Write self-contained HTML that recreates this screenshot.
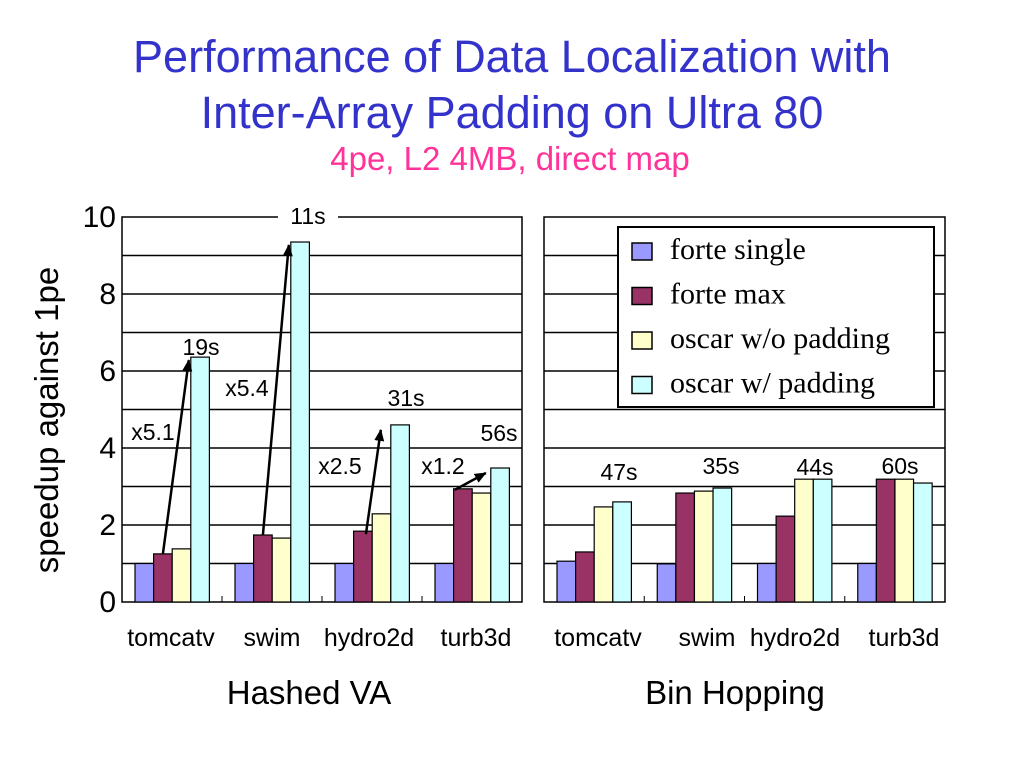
<!DOCTYPE html>
<html><head><meta charset="utf-8"><style>
body{margin:0;background:#fff;width:1024px;height:768px;overflow:hidden}
svg text{font-family:"Liberation Sans",sans-serif}
</style></head><body>
<svg id="c" width="1024" height="768" xmlns="http://www.w3.org/2000/svg">
<defs><marker id="ah" markerUnits="userSpaceOnUse" markerWidth="12" markerHeight="10" refX="11" refY="5" orient="auto"><path d="M0,0 L12,5 L0,10 z" fill="#000"/></marker></defs>
<text x="512" y="72" text-anchor="middle" font-size="45" fill="#3333cc">Performance of Data Localization with</text>
<text x="512" y="128" text-anchor="middle" font-size="45" fill="#3333cc">Inter-Array Padding on Ultra 80</text>
<text x="510" y="170" text-anchor="middle" font-size="33" fill="#ff3399">4pe, L2 4MB, direct map</text>
<text transform="translate(58,420) rotate(-90)" text-anchor="middle" font-size="33">speedup against 1pe</text>
<g id="g"></g>
</svg>
<script>
const categories=["tomcatv","swim","hydro2d","turb3d"];
const seriesNames=["forte single","forte max","oscar w/o padding","oscar w/ padding"];
const hashedVals=[[1,1,1,1],[1.25,1.74,1.84,2.94],[1.38,1.66,2.29,2.83],[6.36,9.35,4.6,3.48]];
const binVals=[[1.06,0.99,1,1],[1.3,2.83,2.23,3.19],[2.47,2.88,3.19,3.19],[2.6,2.96,3.19,3.09]];
const hashedTimes=["19s","11s","31s","56s"];
const hashedRatios=["x5.1","x5.4","x2.5","x1.2"];
const binTimes=["47s","35s","44s","60s"];
const yTicks=[0,2,4,6,8,10];
const colors=["#9999ff","#993366","#ffffcc","#ccffff"];
const hashedLabelX=[171,272,369,476];
const binLabelX=[598,707,795,904];
const NS="http://www.w3.org/2000/svg";
const G=document.getElementById('g');
function el(t,a,txt){const e=document.createElementNS(NS,t);for(const k in a)e.setAttribute(k,a[k]);if(txt!==undefined)e.textContent=txt;G.appendChild(e);return e;}
const y0=602,ppu=38.5;
function Y(v){return y0-v*ppu;}
function panel(x0,x1,vals,pid,lx){
  const f=el('rect',{x:x0,y:Y(10),width:x1-x0,height:y0-Y(10),fill:'#fff',stroke:'#000','stroke-width':1.5});
  
  for(let v=1;v<10;v++){const l=el('line',{x1:x0,x2:x1,y1:Y(v),y2:Y(v),stroke:'#000','stroke-width':1.5});
    }
  const gw=(x1-x0)/4;
  for(let i=1;i<4;i++){const t=el('line',{x1:x0+gw*i,x2:x0+gw*i,y1:y0,y2:y0-6,stroke:'#000'});
    }
  const bw=18.6;
  for(let c=0;c<4;c++){
    for(let s=0;s<4;s++){const bx=x0+gw*c+13+s*bw,v=vals[s][c];
      const r=el('rect',{x:bx,y:Y(v),width:bw,height:y0-Y(v),fill:colors[s],stroke:'#000','stroke-width':1.2});
      }
    const t=el('text',{x:lx[c],y:646,'text-anchor':'middle','font-size':25},categories[c]);
    
  }
  return {gw,bw};
}
const L=panel(122,522,hashedVals,'hashed',hashedLabelX);
yTicks.forEach(v=>{const t=el('text',{x:116,y:Y(v)+10,'text-anchor':'end','font-size':30},v);
  });
for(let c=0;c<4;c++){
  const gx=122+L.gw*c+13;
  const mx=gx+L.bw*1.5, cx=gx+L.bw*3;
  let sx=mx,sy=Y(hashedVals[1][c]), ex=cx-2, ey=Y(hashedVals[3][c])+3;
  if(c==2){sx=mx+3;sy=sy+3;ex=cx-10;ey=ey+2;}
  if(c==3){sx=mx-8;sy=sy+1;ex=cx-5;ey=ey+2;}
  const a=el('line',{x1:sx,y1:sy,x2:ex,y2:ey,stroke:'#000','stroke-width':2.5,'marker-end':'url(#ah)'});
  
}
const rPos=[[153,440],[247,396],[340,474],[443,474]];
const tPos=[[201,355],[308,224],[406,406],[499,441]];
for(let c=0;c<4;c++){
  const r=el('text',{x:rPos[c][0],y:rPos[c][1],'text-anchor':'middle','font-size':23},hashedRatios[c]);
  
  if(c==1){const b=el('rect',{x:278,y:205,width:60,height:16,fill:'#fff'});}
  const t=el('text',{x:tPos[c][0],y:tPos[c][1],'text-anchor':'middle','font-size':23},hashedTimes[c]);
  
}
const R=panel(544,945,binVals,'bin',binLabelX);
const bPos=[[619,480],[721,474],[815,475],[900,474]];
for(let c=0;c<4;c++){const t=el('text',{x:bPos[c][0],y:bPos[c][1],'text-anchor':'middle','font-size':23},binTimes[c]);
  }
const lg=el('rect',{x:618,y:227,width:316,height:180,fill:'#fff',stroke:'#000','stroke-width':2});

seriesNames.forEach((n,i)=>{const yy=250+i*44.5;
  const s=el('rect',{x:632,y:yy-7,width:20,height:17,fill:colors[i],stroke:'#000','stroke-width':1.5});
  
  const t=el('text',{x:670,y:yy+9,'font-size':30,style:'font-family:"Liberation Serif",serif'},n);
  });
const h1=el('text',{x:309,y:704,'text-anchor':'middle','font-size':33},'Hashed VA');

const h2=el('text',{x:735,y:704,'text-anchor':'middle','font-size':33},'Bin Hopping');

</script>
</body></html>
